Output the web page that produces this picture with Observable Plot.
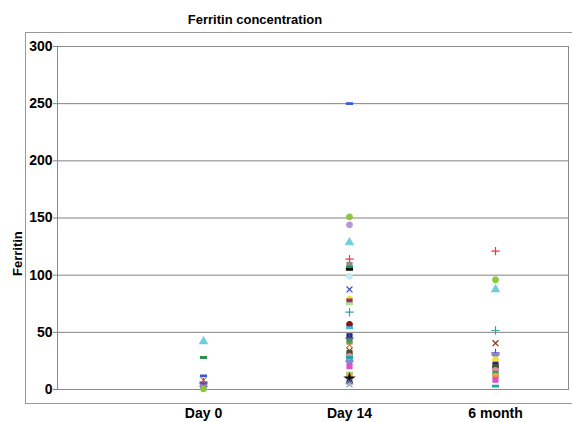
<!DOCTYPE html>
<html><head><meta charset="utf-8">
<script src="https://cdn.jsdelivr.net/npm/d3@7"></script>
<script src="https://cdn.jsdelivr.net/npm/@observablehq/plot@0.6"></script>
<style>
body{margin:0;background:#fff;font-family:"Liberation Sans",Arial,sans-serif;}
#wrap{position:relative;width:572px;height:422px;overflow:hidden;background:#fff;}
#outer{position:absolute;left:25px;top:32px;width:600px;height:370px;border:1px solid #999;}
#title{position:absolute;left:0;top:12px;width:510px;text-align:center;font-weight:bold;font-size:13px;line-height:15px;}
#chart{position:absolute;left:0;top:0;}
</style></head><body>
<div id="wrap"><div id="outer"></div><div id="title">Ferritin concentration</div><div id="chart"></div></div>
<script>
const categories = ["Day 0", "Day 14", "6 month"];
const yTicks = [0, 50, 100, 150, 200, 250, 300];

const subjects = ["S1","S2","S3","S4","S5","S6","S7","S8","S9","S10","S11","S12","S13","S14","S15","S16","S17","S18","S19","S20","S21","S22","S23","S24","S25","S26","S27","S28","S29","S30","S31"];

const day0Subjects = ["S1","S8","S7","S19","S25","S2","S12","S14","S21","S3"];
const day0Values   = [42, 28, 12, 8, 6.5, 5, 4, 3, 2, 0.5];

const day14Subjects = ["S7","S3","S4","S1","S2","S9","S8","S10","S11","S12","S13","S14","S15","S5","S16","S17","S18","S25","S27","S19","S6","S26","S28","S24","S21","S20","S29","S30","S22","S31","S23"];
const day14Values   = [250, 151, 144, 128.5, 114, 109, 107, 105, 99, 87.5, 79, 77, 75, 67.6, 57, 54, 46.6, 45, 42, 39, 34, 31.8, 29, 28, 24, 20.4, 14.3, 11.6, 9.6, 7, 4.4];

const month6Subjects = ["S2","S3","S1","S5","S6","S25","S21","S13","S18","S26","S28","S27","S30","S20","S24"];
const month6Values   = [121, 96, 87.5, 51.6, 40.5, 32, 29.7, 26, 21.6, 19.5, 16.6, 13.7, 11.7, 8.5, 3];

// styles (per subject marker, SPSS-like)
const dash = {draw(ctx, size) { const s = Math.sqrt(size); ctx.rect(-s * 0.6, -s * 0.16, s * 1.2, s * 0.32); }};
const symbolRange = ["triangle","plus","circle","circle","plus","times",dash,dash,"square",dash,"circle","times","circle","square",dash,"circle",dash,"square","times","square","wye","star","times",dash,"plus","square","square","circle",dash,"circle","times"];
const colorRange = ["#6ccfe0","#ff3030","#8dc63f","#b995d8","#3a9e9e","#7b3b22","#3b5bd0","#2f8f4f","#8c8c8c","#111111","#c4ebf2","#3f4fa8","#f2e23a","#9b2f7a","#b5dd9a","#8c1414","#45b4e6","#262680","#e67a32","#d655c8","#8585d6","#111111","#8e96b8","#1fa3a3","#6a46a8","#4f5030","#3b9a55","#e88aa8","#9ad07a","#f2a33a","#55609a"];

const data = [];
[[day0Subjects, day0Values], [day14Subjects, day14Values], [month6Subjects, month6Values]].forEach(([subs, vals], i) => {
  subs.forEach((s, j) => data.push({t: i + 1, subject: s, value: vals[j]}));
});

const chart = Plot.plot({
  width: 572,
  height: 422,
  marginLeft: 57,
  marginRight: 4,
  marginTop: 46,
  marginBottom: 33,
  style: {fontFamily: "'Liberation Sans', Arial, sans-serif", background: "transparent", overflow: "visible"},
  x: {type: "linear", domain: [0, 3.5]},
  y: {domain: [0, 300]},
  color: {type: "ordinal", domain: subjects, range: colorRange},
  symbol: {domain: subjects, range: symbolRange},
  marks: [
    Plot.gridY(yTicks, {stroke: "#808080", strokeOpacity: 1}),
    Plot.frame({stroke: "#8a8a8a"}),
    Plot.axisY(yTicks, {tickSize: 4, tickPadding: 1, stroke: "#808080", fontWeight: "bold", fontSize: 14, fill: "#000", label: null}),
    Plot.axisX([1, 2, 3], {tickSize: 0, tickPadding: 19, tickFormat: (d) => categories[d - 1], fontWeight: "bold", fontSize: 14, fill: "#000", label: null}),
    Plot.dot(data, {x: "t", y: "value", symbol: "subject", fill: "subject", stroke: "subject", r: 2.8, strokeWidth: 1.2}),
    Plot.text(["Ferritin"], {frameAnchor: "left", rotate: -90, dx: -40, dy: 58, fontWeight: "bold", fontSize: 13, fill: "#000"})
  ]
});
document.getElementById("chart").appendChild(chart);
</script></body></html>
